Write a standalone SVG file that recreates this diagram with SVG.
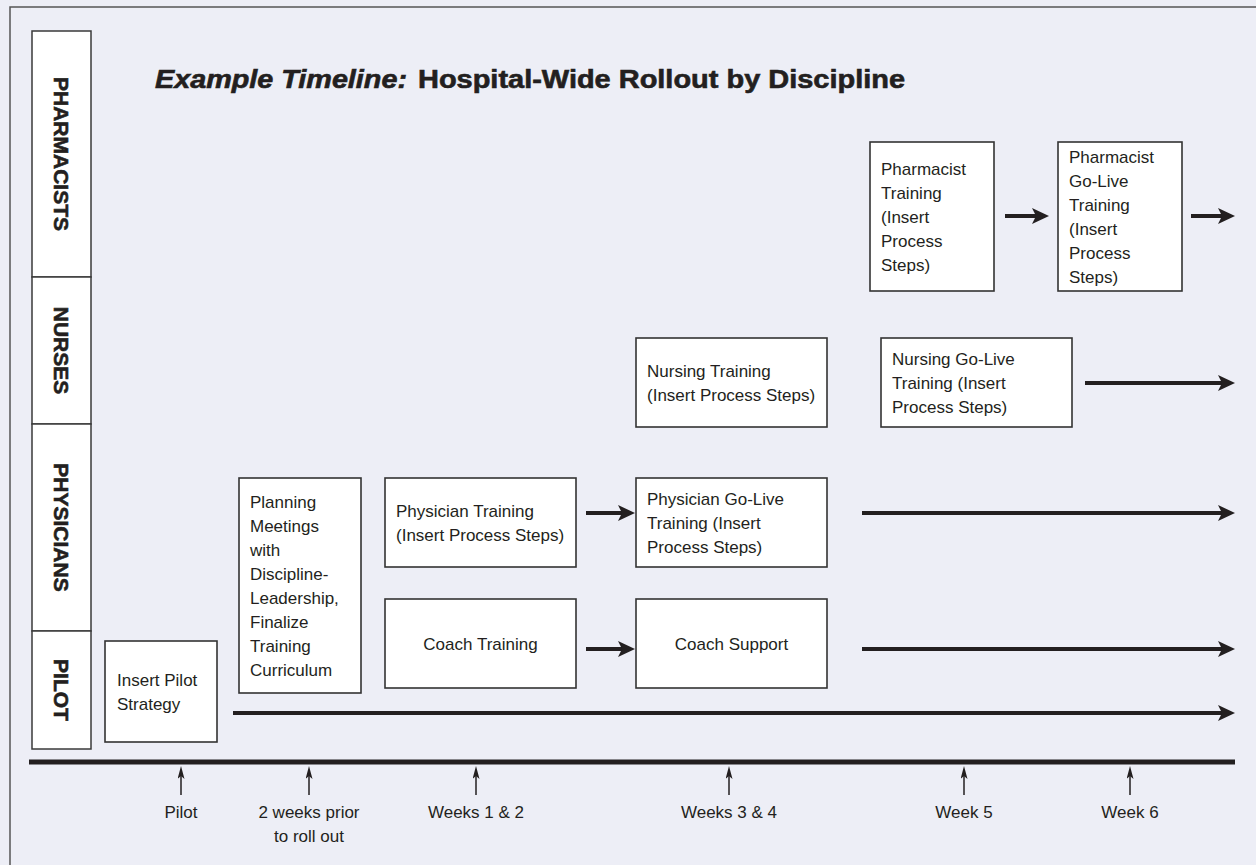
<svg xmlns="http://www.w3.org/2000/svg" width="1256" height="865" viewBox="0 0 1256 865">
<style>
.bg{fill:#EDEEF6}
.frame{stroke:#555;stroke-width:1.5;fill:none}
.cell{fill:#fff;stroke:#3a3a3a;stroke-width:1.5}
.box{fill:#fff;stroke:#333;stroke-width:1.6}
.lbl{font-family:"Liberation Sans",Arial,sans-serif;font-weight:bold;font-size:21px;fill:#231F20;stroke:#231F20;stroke-width:0.6}
.t{font-family:"Liberation Sans",Arial,sans-serif;font-size:17px;fill:#231F20}
.title{font-family:"Liberation Sans",Arial,sans-serif;font-weight:bold;font-size:25px;fill:#231F20;stroke:#231F20;stroke-width:0.6}
.arr{stroke:#231F20;stroke-width:4;fill:none}
.tick{stroke:#231F20;stroke-width:1.5;fill:none}
.axis{stroke:#231F20;stroke-width:5}
</style>
<defs>
<marker id="ah" markerUnits="userSpaceOnUse" markerWidth="20" markerHeight="18" refX="11" refY="8" orient="auto">
<path d="M0,0 L17,8 L0,16 L4,8 Z" fill="#231F20"/>
</marker>
<marker id="th" markerUnits="userSpaceOnUse" markerWidth="14" markerHeight="10" refX="9" refY="3.5" orient="auto">
<path d="M0,0 L13,3.5 L0,7 L3,3.5 Z" fill="#231F20"/>
</marker>
</defs>
<rect class="bg" x="0" y="0" width="1256" height="865"/>
<path class="frame" d="M10,865 L10,7 L1256,7"/>

<g id="lanes">
<g id="lane-pharmacists"><rect class="cell" x="32" y="31" width="59" height="246"/><text class="lbl" transform="translate(61.5,154) rotate(90)" text-anchor="middle" dominant-baseline="central">PHARMACISTS</text></g>
<g id="lane-nurses"><rect class="cell" x="32" y="277" width="59" height="147"/><text class="lbl" transform="translate(61.5,350.5) rotate(90)" text-anchor="middle" dominant-baseline="central">NURSES</text></g>
<g id="lane-physicians"><rect class="cell" x="32" y="424" width="59" height="207"/><text class="lbl" transform="translate(61.5,527.5) rotate(90)" text-anchor="middle" dominant-baseline="central">PHYSICIANS</text></g>
<g id="lane-pilot"><rect class="cell" x="32" y="631" width="59" height="118"/><text class="lbl" transform="translate(61.5,690) rotate(90)" text-anchor="middle" dominant-baseline="central">PILOT</text></g>
</g>

<g id="title">
<text class="title" x="155" y="88" font-style="italic" textLength="252" lengthAdjust="spacingAndGlyphs">Example Timeline:</text>
<text class="title" x="418" y="88" textLength="487" lengthAdjust="spacingAndGlyphs">Hospital-Wide Rollout by Discipline</text>
</g>

<g id="node-pilot"><rect class="box" x="105" y="641" width="112" height="101"/>
<text class="t" x="117" y="685.5"><tspan x="117">Insert Pilot</tspan><tspan x="117" dy="24">Strategy</tspan></text></g>

<g id="node-planning"><rect class="box" x="239" y="478" width="122" height="215"/>
<text class="t" x="250" y="507.5"><tspan x="250">Planning</tspan><tspan x="250" dy="24">Meetings</tspan><tspan x="250" dy="24">with</tspan><tspan x="250" dy="24">Discipline-</tspan><tspan x="250" dy="24">Leadership,</tspan><tspan x="250" dy="24">Finalize</tspan><tspan x="250" dy="24">Training</tspan><tspan x="250" dy="24">Curriculum</tspan></text></g>

<g id="node-physician-training"><rect class="box" x="385" y="478" width="191" height="89"/>
<text class="t" x="396" y="516.5"><tspan x="396">Physician Training</tspan><tspan x="396" dy="24">(Insert Process Steps)</tspan></text></g>

<g id="node-coach-training"><rect class="box" x="385" y="599" width="191" height="89"/>
<text class="t" x="480.5" y="649.5" text-anchor="middle">Coach Training</text></g>

<g id="node-physician-golive"><rect class="box" x="636" y="478" width="191" height="89"/>
<text class="t" x="647" y="504.5"><tspan x="647">Physician Go-Live</tspan><tspan x="647" dy="24">Training (Insert</tspan><tspan x="647" dy="24">Process Steps)</tspan></text></g>

<g id="node-coach-support"><rect class="box" x="636" y="599" width="191" height="89"/>
<text class="t" x="731.5" y="649.5" text-anchor="middle">Coach Support</text></g>

<g id="node-nursing-training"><rect class="box" x="636" y="338" width="191" height="89"/>
<text class="t" x="647" y="376.5"><tspan x="647">Nursing Training</tspan><tspan x="647" dy="24">(Insert Process Steps)</tspan></text></g>

<g id="node-nursing-golive"><rect class="box" x="881" y="338" width="191" height="89"/>
<text class="t" x="892" y="364.5"><tspan x="892">Nursing Go-Live</tspan><tspan x="892" dy="24">Training (Insert</tspan><tspan x="892" dy="24">Process Steps)</tspan></text></g>

<g id="node-pharmacist-training"><rect class="box" x="870" y="142" width="124" height="149"/>
<text class="t" x="881" y="174.5"><tspan x="881">Pharmacist</tspan><tspan x="881" dy="24">Training</tspan><tspan x="881" dy="24">(Insert</tspan><tspan x="881" dy="24">Process</tspan><tspan x="881" dy="24">Steps)</tspan></text></g>

<g id="node-pharmacist-golive"><rect class="box" x="1058" y="142" width="124" height="149"/>
<text class="t" x="1069" y="162.5"><tspan x="1069">Pharmacist</tspan><tspan x="1069" dy="24">Go-Live</tspan><tspan x="1069" dy="24">Training</tspan><tspan x="1069" dy="24">(Insert</tspan><tspan x="1069" dy="24">Process</tspan><tspan x="1069" dy="24">Steps)</tspan></text></g>

<g id="connectors">
<line class="arr" x1="1005" y1="216" x2="1043" y2="216" marker-end="url(#ah)"/>
<line class="arr" x1="1191" y1="216" x2="1229" y2="216" marker-end="url(#ah)"/>
<line class="arr" x1="1085" y1="383" x2="1229" y2="383" marker-end="url(#ah)"/>
<line class="arr" x1="586" y1="513" x2="629" y2="513" marker-end="url(#ah)"/>
<line class="arr" x1="862" y1="513" x2="1229" y2="513" marker-end="url(#ah)"/>
<line class="arr" x1="586" y1="649" x2="629" y2="649" marker-end="url(#ah)"/>
<line class="arr" x1="862" y1="649" x2="1229" y2="649" marker-end="url(#ah)"/>
<line class="arr" x1="233" y1="713" x2="1229" y2="713" marker-end="url(#ah)"/>
</g>

<g id="timeline">
<line class="axis" x1="29" y1="762" x2="1235" y2="762"/>
<line class="tick" x1="181" y1="795" x2="181" y2="770" marker-end="url(#th)"/>
<line class="tick" x1="309" y1="795" x2="309" y2="770" marker-end="url(#th)"/>
<line class="tick" x1="476" y1="795" x2="476" y2="770" marker-end="url(#th)"/>
<line class="tick" x1="729" y1="795" x2="729" y2="770" marker-end="url(#th)"/>
<line class="tick" x1="964" y1="795" x2="964" y2="770" marker-end="url(#th)"/>
<line class="tick" x1="1130" y1="795" x2="1130" y2="770" marker-end="url(#th)"/>
<text class="t" x="181" y="818" text-anchor="middle">Pilot</text>
<text class="t" x="309" y="818" text-anchor="middle"><tspan x="309">2 weeks prior</tspan><tspan x="309" dy="24">to roll out</tspan></text>
<text class="t" x="476" y="818" text-anchor="middle">Weeks 1 &amp; 2</text>
<text class="t" x="729" y="818" text-anchor="middle">Weeks 3 &amp; 4</text>
<text class="t" x="964" y="818" text-anchor="middle">Week 5</text>
<text class="t" x="1130" y="818" text-anchor="middle">Week 6</text>
</g>
</svg>
